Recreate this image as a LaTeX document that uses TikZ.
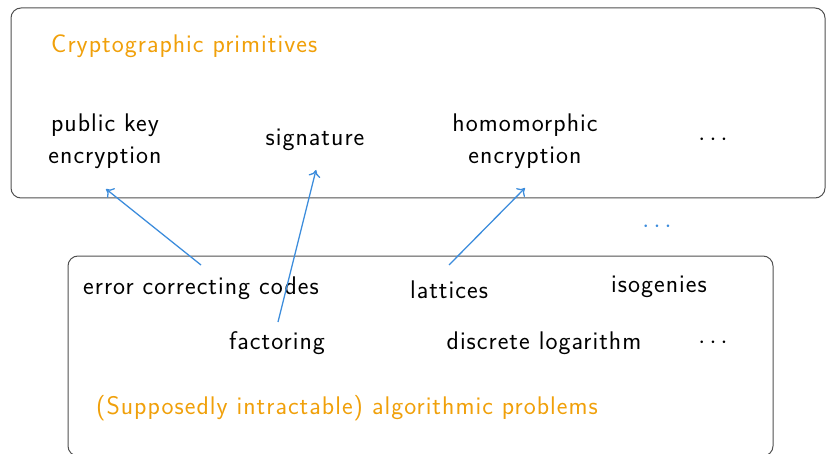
\documentclass[tikz,border=0pt]{standalone}
\usepackage{fontspec}
\setmainfont[LetterSpace=4]{Latin Modern Sans}
\usetikzlibrary{arrows.meta}
\definecolor{hdorange}{RGB}{240,160,10}
\definecolor{linkblue}{RGB}{60,140,220}
\definecolor{framegray}{RGB}{80,80,80}
\begin{document}
\begin{tikzpicture}[x=1pt,y=-1pt,
  panel/.style={draw=framegray,line width=1pt,rounded corners=10pt},
  item/.style={inner sep=0pt,align=center,font=\fontsize{25.5}{32}\selectfont},
  heading/.style={item,text=hdorange,anchor=west},
  link/.style={draw=linkblue,line width=1.3pt,-{To[length=7pt,width=12pt]}}]
\useasboundingbox (0,0) rectangle (826,454);
% frames
\draw[panel] (11,8) rectangle (825,198);
\draw[panel] (68,256) rectangle (773,456);
% primitives
\node[heading] (ptitle) at (51,46) {Cryptographic primitives};
\node[item] (pke) at (105,141) {public key\\encryption};
\node[item] (sig) at (315,140) {signature};
\node[item] (fhe) at (525,141) {homomorphic\\encryption};
\node[item] (pdots) at (713,140) {$\cdots$};
\node[item,text=linkblue] (mdots) at (657,227) {$\cdots$};
% problems
\node[item] (ecc) at (201,288) {error correcting codes};
\node[item] (lat) at (449,290) {lattices};
\node[item] (iso) at (659,287) {isogenies};
\node[item] (fac) at (277,343) {factoring};
\node[item] (dlog) at (544,343) {discrete logarithm};
\node[item] (adots) at (713,343) {$\cdots$};
\node[heading] (atitle) at (96,408) {(Supposedly intractable) algorithmic problems};
% reductions
\coordinate (e0) at (201,265);
\coordinate (e1) at (106,189);
\coordinate (f0) at (278,322);
\coordinate (f1) at (316,170);
\coordinate (l0) at (449,265);
\coordinate (l1) at (525,188);
\draw[link] (e0) -- (e1);
\draw[link] (f0) -- (f1);
\draw[link] (l0) -- (l1);
\end{tikzpicture}
\end{document}
